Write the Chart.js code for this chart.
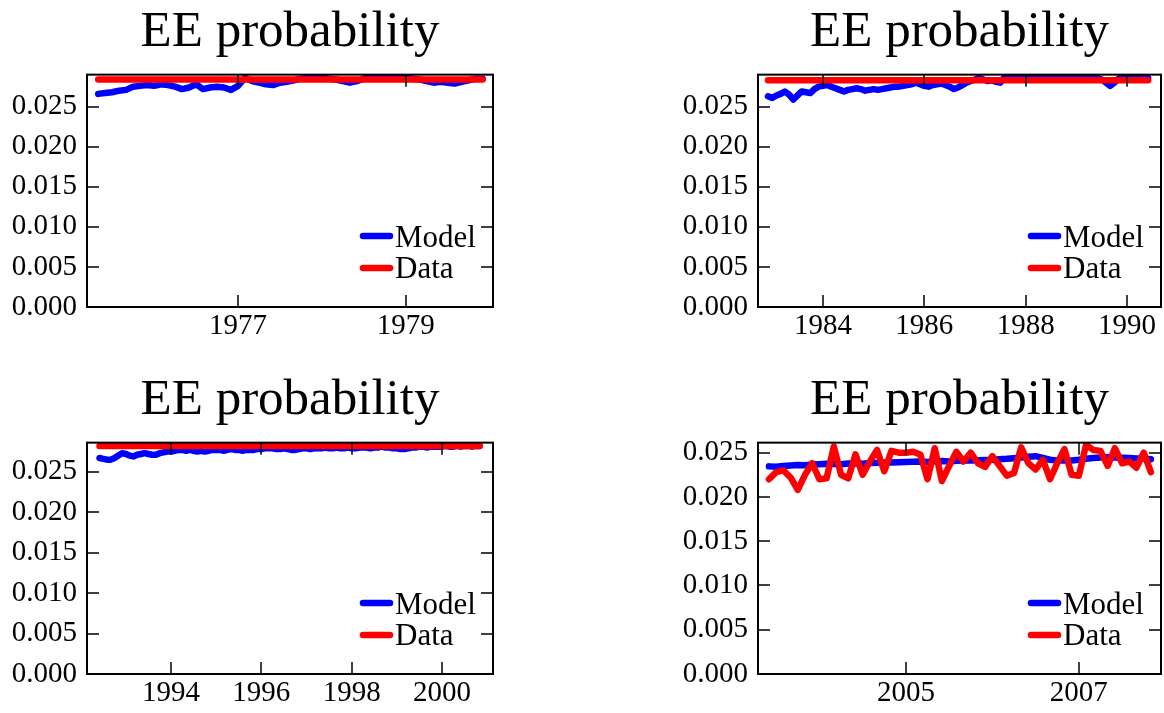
<!DOCTYPE html>
<html>
<head>
<meta charset="utf-8">
<script src="https://cdn.jsdelivr.net/npm/chart.js@4.4.1/dist/chart.umd.min.js"></script>
<style>
  body { margin: 0; background: #fff; overflow: hidden; width: 1164px; height: 713px; position: relative; }
  canvas { position: absolute; }
</style>
</head>
<body>
<canvas id="c1" width="580" height="356" style="left:0px;top:0px"></canvas>
<canvas id="c2" width="577" height="356" style="left:671px;top:0px"></canvas>
<canvas id="c3" width="580" height="355" style="left:0px;top:368px"></canvas>
<canvas id="c4" width="577" height="355" style="left:671px;top:368px"></canvas>
<script>
// monthly series, EE probability, model vs data
const titleText = 'EE probability';
const seriesNames = ['Model', 'Data'];
const yTicks = [0, 0.005, 0.010, 0.015, 0.020, 0.025];

// panel 1: May 1975 - Dec 1979
const p1Start = [1975, 5];
const p1XTicks = [1977, 1979];
const p1Model = [0.0266, 0.0267, 0.0268, 0.0270, 0.0271, 0.0275, 0.0276, 0.0277, 0.0276, 0.0278,
  0.0277, 0.0275, 0.0272, 0.0274, 0.0278, 0.0272, 0.0274, 0.0275, 0.0274, 0.0271,
  0.0276, 0.0286, 0.0282, 0.0280, 0.0278, 0.0277, 0.0280, 0.0281, 0.0283, 0.0285,
  0.0286, 0.0287, 0.0286, 0.0285, 0.0284, 0.0282, 0.0280, 0.0282, 0.0285, 0.0287,
  0.0287, 0.0286, 0.0287, 0.0287, 0.0286, 0.0285, 0.0284, 0.0282, 0.0280, 0.0281,
  0.0280, 0.0279, 0.0281, 0.0283, 0.0285, 0.0285];
const p1Data = [0.0284, 0.0284, 0.0284, 0.0284, 0.0284, 0.0284, 0.0284, 0.0284, 0.0284, 0.0284,
  0.0284, 0.0284, 0.0284, 0.0284, 0.0284, 0.0284, 0.0284, 0.0284, 0.0284, 0.0284,
  0.0284, 0.0284, 0.0284, 0.0284, 0.0284, 0.0284, 0.0284, 0.0284, 0.0284, 0.0284,
  0.0284, 0.0284, 0.0284, 0.0284, 0.0284, 0.0284, 0.0284, 0.0284, 0.0284, 0.0284,
  0.0284, 0.0284, 0.0284, 0.0284, 0.0284, 0.0284, 0.0284, 0.0284, 0.0284, 0.0284,
  0.0284, 0.0284, 0.0284, 0.0284, 0.0284, 0.0284];

// panel 2: Dec 1982 - Jun 1990
const p2Start = [1982, 12];
const p2XTicks = [1984, 1986, 1988, 1990];
const p2Model = [0.0263, 0.0261, 0.0264, 0.0266, 0.0269, 0.0265, 0.0259, 0.0264, 0.0269, 0.0268, 0.0267,
  0.0272, 0.0275, 0.0276, 0.0277, 0.0275, 0.0273, 0.0271, 0.0269, 0.0271, 0.0272,
  0.0273, 0.0272, 0.0270, 0.0271, 0.0272, 0.0271, 0.0272, 0.0273, 0.0274, 0.0275,
  0.0275, 0.0276, 0.0277, 0.0278, 0.0280, 0.0278, 0.0276, 0.0275, 0.0277, 0.0278,
  0.0279, 0.0277, 0.0275, 0.0272, 0.0274, 0.0277, 0.0280, 0.0282, 0.0284, 0.0286,
  0.0284, 0.0282, 0.0283, 0.0281, 0.0280, 0.0287, 0.0286, 0.0287, 0.0288, 0.0287,
  0.0288, 0.0287, 0.0288, 0.0288, 0.0287, 0.0288, 0.0287, 0.0288, 0.0288, 0.0287,
  0.0288, 0.0287, 0.0288, 0.0287, 0.0288, 0.0288, 0.0287, 0.0286, 0.0284, 0.0280,
  0.0276, 0.0280, 0.0285, 0.0287, 0.0288, 0.0287, 0.0287, 0.0288, 0.0287, 0.0286];
const p2Data = [0.0283, 0.0283, 0.0283, 0.0283, 0.0283, 0.0283, 0.0283, 0.0283, 0.0283, 0.0283, 0.0283,
  0.0283, 0.0283, 0.0283, 0.0283, 0.0283, 0.0283, 0.0283, 0.0283, 0.0283, 0.0283,
  0.0283, 0.0283, 0.0283, 0.0283, 0.0283, 0.0283, 0.0283, 0.0283, 0.0283, 0.0283,
  0.0283, 0.0283, 0.0283, 0.0283, 0.0283, 0.0283, 0.0283, 0.0283, 0.0283, 0.0283,
  0.0283, 0.0283, 0.0283, 0.0283, 0.0283, 0.0283, 0.0283, 0.0283, 0.0283, 0.0283,
  0.0283, 0.0283, 0.0283, 0.0283, 0.0283, 0.0283, 0.0283, 0.0283, 0.0283, 0.0283,
  0.0283, 0.0283, 0.0283, 0.0283, 0.0283, 0.0283, 0.0283, 0.0283, 0.0283, 0.0283,
  0.0283, 0.0283, 0.0283, 0.0283, 0.0283, 0.0283, 0.0283, 0.0283, 0.0283, 0.0283,
  0.0283, 0.0283, 0.0283, 0.0283, 0.0283, 0.0283, 0.0283, 0.0283, 0.0283, 0.0283];

// panel 3: Jun 1992 - Nov 2000
const p3Start = [1992, 6];
const p3XTicks = [1994, 1996, 1998, 2000];
const p3Model = [0.0267, 0.0266, 0.0265, 0.0265, 0.0267, 0.0270, 0.0273, 0.0272, 0.0270, 0.0269,
  0.0271, 0.0272, 0.0273, 0.0272, 0.0271, 0.0271, 0.0273, 0.0274, 0.0275, 0.0275,
  0.0276, 0.0277, 0.0277, 0.0276, 0.0277, 0.0276, 0.0275, 0.0276, 0.0275, 0.0276,
  0.0277, 0.0277, 0.0277, 0.0276, 0.0277, 0.0278, 0.0277, 0.0277, 0.0276, 0.0277,
  0.0277, 0.0277, 0.0278, 0.0278, 0.0279, 0.0279, 0.0279, 0.0278, 0.0278, 0.0279,
  0.0278, 0.0277, 0.0277, 0.0278, 0.0279, 0.0279, 0.0278, 0.0279, 0.0279, 0.0279,
  0.0280, 0.0279, 0.0279, 0.0280, 0.0279, 0.0279, 0.0280, 0.0279, 0.0279, 0.0280,
  0.0280, 0.0280, 0.0279, 0.0280, 0.0280, 0.0281, 0.0280, 0.0280, 0.0279, 0.0279,
  0.0278, 0.0278, 0.0279, 0.0280, 0.0280, 0.0281, 0.0281, 0.0280, 0.0281, 0.0281,
  0.0281, 0.0281, 0.0282, 0.0281, 0.0281, 0.0282, 0.0281, 0.0282, 0.0282, 0.0281,
  0.0282, 0.0282];
const p3Data = [0.0282, 0.0282, 0.0282, 0.0282, 0.0282, 0.0282, 0.0282, 0.0282, 0.0282, 0.0282,
  0.0282, 0.0282, 0.0282, 0.0282, 0.0282, 0.0282, 0.0282, 0.0282, 0.0282, 0.0282,
  0.0282, 0.0282, 0.0282, 0.0282, 0.0282, 0.0282, 0.0282, 0.0282, 0.0282, 0.0282,
  0.0282, 0.0282, 0.0282, 0.0282, 0.0282, 0.0282, 0.0282, 0.0282, 0.0282, 0.0282,
  0.0282, 0.0282, 0.0282, 0.0282, 0.0282, 0.0282, 0.0282, 0.0282, 0.0282, 0.0282,
  0.0282, 0.0282, 0.0282, 0.0282, 0.0282, 0.0282, 0.0282, 0.0282, 0.0282, 0.0282,
  0.0282, 0.0282, 0.0282, 0.0282, 0.0282, 0.0282, 0.0282, 0.0282, 0.0282, 0.0282,
  0.0282, 0.0282, 0.0282, 0.0282, 0.0282, 0.0282, 0.0282, 0.0282, 0.0282, 0.0282,
  0.0282, 0.0282, 0.0282, 0.0282, 0.0282, 0.0282, 0.0282, 0.0282, 0.0282, 0.0282,
  0.0282, 0.0282, 0.0282, 0.0282, 0.0282, 0.0282, 0.0282, 0.0282, 0.0282, 0.0282,
  0.0282, 0.0282];

// panel 4: Jun 2003 - Nov 2007
const p4Start = [2003, 6];
const p4XTicks = [2005, 2007];
const p4Model = [0.02345, 0.02340, 0.02350, 0.02355, 0.02360, 0.02358, 0.02365, 0.02370, 0.02375, 0.02372,
  0.02370, 0.02378, 0.02380, 0.02375, 0.02382, 0.02385, 0.02390, 0.02388, 0.02392, 0.02395,
  0.02398, 0.02400, 0.02395, 0.02402, 0.02405, 0.02400, 0.02408, 0.02410, 0.02412, 0.02415,
  0.02418, 0.02420, 0.02425, 0.02430, 0.02438, 0.02445, 0.02455, 0.02460, 0.02440, 0.02420,
  0.02412, 0.02410, 0.02412, 0.02420, 0.02432, 0.02440, 0.02445, 0.02448, 0.02445, 0.02442,
  0.02440, 0.02435, 0.02430, 0.02425];
const p4Data = [0.0220, 0.0228, 0.0230, 0.0222, 0.0208, 0.0225, 0.0238, 0.0220, 0.0221, 0.0257,
  0.0225, 0.0221, 0.0248, 0.0225, 0.0240, 0.0253, 0.0229, 0.0252, 0.0250, 0.0250,
  0.0251, 0.0248, 0.0220, 0.0255, 0.0218, 0.0235, 0.0251, 0.0240, 0.0250, 0.0238,
  0.0234, 0.0246, 0.0235, 0.0224, 0.0227, 0.0256, 0.0238, 0.0231, 0.0242, 0.0220,
  0.0238, 0.0254, 0.0225, 0.0224, 0.0259, 0.0253, 0.0252, 0.0235, 0.0255, 0.0238,
  0.0240, 0.0233, 0.0250, 0.0228];

const fontFamily = "'Liberation Serif', 'Times New Roman', serif";
Chart.defaults.font.family = fontFamily;
Chart.defaults.color = '#000';

function monthAxis(start, n) {
  // decimal year for each month
  let xs = [];
  for (let i = 0; i < n; i++) xs.push(start[0] + (start[1] - 1 + i) / 12);
  return xs;
}

// inward ticks on all four sides, box frame, legend in lower right
const boxTicks = {
  id: 'boxTicks',
  afterDraw(chart) {
    const ctx = chart.ctx;
    const a = chart.chartArea;
    const x = chart.scales.x, y = chart.scales.y;
    ctx.save();
    ctx.strokeStyle = '#000';
    ctx.lineWidth = 1.5;
    ctx.beginPath();
    x.ticks.forEach(t => {
      const px = Math.round(x.getPixelForValue(t.value));
      ctx.moveTo(px, a.bottom); ctx.lineTo(px, a.bottom - 12);
      ctx.moveTo(px, a.top); ctx.lineTo(px, a.top + 12);
    });
    y.ticks.forEach(t => {
      const py = Math.round(y.getPixelForValue(t.value));
      ctx.moveTo(a.left, py); ctx.lineTo(a.left + 12, py);
      ctx.moveTo(a.right, py); ctx.lineTo(a.right - 12, py);
    });
    ctx.stroke();
    ctx.lineWidth = 2;
    ctx.strokeRect(a.left, a.top, a.right - a.left, a.bottom - a.top);

    chart.data.datasets.forEach((ds, i) => {
      const ly = a.bottom - 71 + 32 * i;
      ctx.strokeStyle = ds.borderColor;
      ctx.lineWidth = 6.5;
      ctx.lineCap = 'round';
      ctx.beginPath();
      ctx.moveTo(a.right - 130, ly);
      ctx.lineTo(a.right - 103, ly);
      ctx.stroke();
      ctx.fillStyle = '#000';
      ctx.font = '31px ' + fontFamily;
      ctx.textAlign = 'left';
      ctx.textBaseline = 'alphabetic';
      ctx.fillText(ds.label, a.right - 98, a.bottom - 60 + 31 * i);
    });
    ctx.restore();
  }
};

function makePanel(id, start, model, data, xTicks, xMin, xMax, yMax) {
  const xs = monthAxis(start, model.length);
  const ctx = document.getElementById(id).getContext('2d');
  return new Chart(ctx, {
    type: 'line',
    data: {
      datasets: [
        { label: seriesNames[0], data: xs.map((v, i) => ({x: v, y: model[i]})),
          borderColor: '#0000ff', borderWidth: 6.5, order: 1 },
        { label: seriesNames[1], data: xs.map((v, i) => ({x: v, y: data[i]})),
          borderColor: '#ff0000', borderWidth: 6.5, order: 0 }
      ]
    },
    options: {
      responsive: false,
      animation: false,
      events: [],
      elements: {
        point: { radius: 0 },
        line: { tension: 0, borderCapStyle: 'round', borderJoinStyle: 'round', fill: false }
      },
      datasets: { line: { clip: 0 } },
      layout: { padding: 0 },
      plugins: {
        legend: { display: false },
        tooltip: { enabled: false },
        title: {
          display: true,
          text: titleText,
          color: '#000',
          font: { size: 51, weight: 'normal', family: fontFamily, lineHeight: 1.15 },
          padding: { top: 3, bottom: 13 }
        }
      },
      scales: {
        x: {
          type: 'linear', position: 'bottom', min: xMin, max: xMax,
          grid: { display: false, drawTicks: false },
          border: { display: false },
          afterBuildTicks: s => { s.ticks = xTicks.map(v => ({value: v})); },
          afterFit: s => { s.height = 49; },
          ticks: { font: { size: 29 }, color: '#000', padding: 2, maxRotation: 0,
                   callback: v => String(v) }
        },
        y: {
          type: 'linear', position: 'left', min: 0, max: yMax,
          grid: { display: false, drawTicks: false },
          border: { display: false },
          afterBuildTicks: s => { s.ticks = yTicks.map(v => ({value: v})); },
          afterFit: s => { s.width = 87; },
          ticks: { font: { size: 29 }, color: '#000', padding: 10,
                   callback: v => v.toFixed(3) }
        },
        y2: {
          type: 'linear', position: 'right', min: 0, max: yMax,
          grid: { display: false, drawTicks: false },
          border: { display: false },
          ticks: { display: false },
          afterFit: s => { s.width = 87; }
        }
      }
    },
    plugins: [boxTicks]
  });
}

makePanel('c1', p1Start, p1Model, p1Data, p1XTicks, 1975.20, 1980.04, 0.0290);
makePanel('c2', p2Start, p2Model, p2Data, p2XTicks, 1982.72, 1990.67, 0.0290);
makePanel('c3', p3Start, p3Model, p3Data, p3XTicks, 1992.14, 2001.13, 0.0286);
makePanel('c4', p4Start, p4Model, p4Data, p4XTicks, 2003.29, 2007.95, 0.02613);
</script>
</body>
</html>
